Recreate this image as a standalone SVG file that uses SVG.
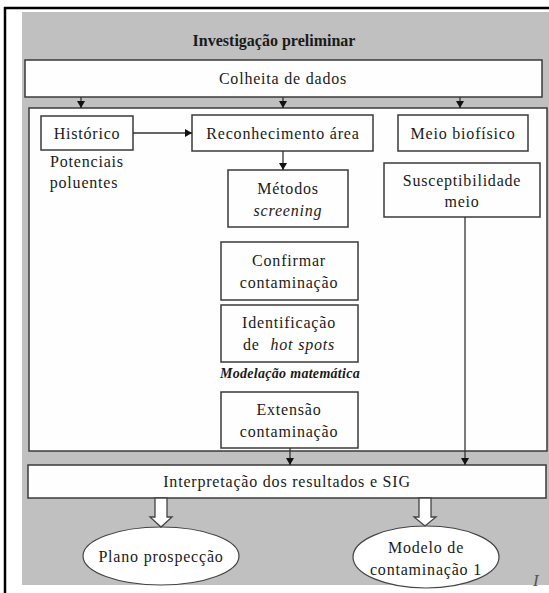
<svg xmlns="http://www.w3.org/2000/svg" width="549" height="593" viewBox="0 0 549 593">
<style>
.box{fill:#fefefe;stroke:#3a3a3a;stroke-width:1.5}
.t{font-family:"Liberation Serif","Times New Roman",serif;font-size:16px;letter-spacing:0.8px;fill:#1a1a1a;text-anchor:middle}
.it{font-style:italic}
.c{stroke:#333;stroke-width:1.3;fill:none}
.hollow{fill:#fff;stroke:#444;stroke-width:1.3}
</style>
<defs>
<marker id="ah" markerWidth="8" markerHeight="8" refX="7" refY="4" orient="auto" markerUnits="userSpaceOnUse">
<path d="M0,0 L7,4 L0,8 Z" fill="#111"/>
</marker>
</defs>
<rect x="0" y="0" width="549" height="593" fill="#fff"/>
<rect x="22" y="12" width="527" height="573" fill="#c0c0c0"/>
<line x1="4" y1="8" x2="549" y2="8" stroke="#000" stroke-width="2.5"/>
<line x1="5" y1="7" x2="5" y2="593" stroke="#000" stroke-width="2.5"/>
<text x="274" y="46" class="t" style="font-weight:bold;letter-spacing:0">Investigação preliminar</text>
<g id="colheita"><rect class="box" x="25" y="60" width="517" height="37"/><text class="t" x="283" y="84">Colheita de dados</text></g>
<g id="area"><rect class="box" x="29" y="108" width="518" height="343"/></g>
<g id="historico"><rect class="box" x="41" y="116" width="92" height="34"/><text class="t" x="87" y="139">Histórico</text></g>
<g id="potenciais"><text class="t" x="87" y="167">Potenciais</text><text class="t" x="84" y="188">poluentes</text></g>
<g id="reconhecimento"><rect class="box" x="192" y="115" width="181" height="36"/><text class="t" x="283" y="139">Reconhecimento área</text></g>
<g id="meio"><rect class="box" x="398" y="115" width="130" height="36"/><text class="t" x="463" y="139">Meio biofísico</text></g>
<g id="metodos"><rect class="box" x="228" y="170" width="120" height="57"/><text class="t" x="288" y="194">Métodos</text><text class="t it" x="288" y="216">screening</text></g>
<g id="suscept"><rect class="box" x="384" y="163" width="156" height="54"/><text class="t" x="462" y="186">Susceptibilidade</text><text class="t" x="462" y="207">meio</text></g>
<g id="confirmar"><rect class="box" x="221" y="242" width="137" height="58"/><text class="t" x="289" y="266">Confirmar</text><text class="t" x="289" y="288">contaminação</text></g>
<g id="identificacao"><rect class="box" x="221" y="305" width="137" height="57"/><text class="t" x="289" y="328">Identificação</text><text class="t" x="289" y="350">de <tspan class="it" dx="6">hot spots</tspan></text></g>
<g id="modelacao"><text class="t" x="290" y="378" style="font-weight:bold;font-style:italic;font-size:14px;letter-spacing:0.3px">Modelação matemática</text></g>
<g id="extensao"><rect class="box" x="221" y="392" width="137" height="56"/><text class="t" x="289" y="415">Extensão</text><text class="t" x="289" y="437">contaminação</text></g>
<g id="interp"><rect class="box" x="28" y="465" width="518" height="33"/><text class="t" x="287" y="487">Interpretação dos resultados e SIG</text></g>
<g id="plano"><ellipse cx="161" cy="556" rx="78" ry="29" fill="#fff" stroke="#444" stroke-width="1.2"/><text class="t" x="161" y="562">Plano prospecção</text></g>
<g id="modelo"><ellipse cx="426" cy="557" rx="73" ry="31" fill="#fff" stroke="#444" stroke-width="1.2"/><text class="t" x="426" y="553">Modelo de</text><text class="t" x="426" y="575">contaminação 1</text></g>
<text x="533" y="586" style="font-family:'Liberation Serif',serif;font-style:italic;font-size:17px;fill:#555">I</text>
<g id="connectors">
<line class="c" x1="81" y1="97" x2="81" y2="108" marker-end="url(#ah)"/>
<line class="c" x1="283" y1="97" x2="283" y2="108" marker-end="url(#ah)"/>
<line class="c" x1="460" y1="97" x2="460" y2="108" marker-end="url(#ah)"/>
<line class="c" x1="133" y1="133" x2="192" y2="133" marker-end="url(#ah)"/>
<line class="c" x1="283" y1="151" x2="283" y2="170" marker-end="url(#ah)"/>
<line class="c" x1="465" y1="217" x2="465" y2="465" marker-end="url(#ah)"/>
<line class="c" x1="290" y1="448" x2="290" y2="465" marker-end="url(#ah)"/>
<path class="hollow" d="M155,498 L167,498 L167,517 L172,517 L161,527 L150,517 L155,517 Z"/>
<path class="hollow" d="M419,498 L431,498 L431,517 L436,517 L425,526 L414,517 L419,517 Z"/>
</g>
</svg>
